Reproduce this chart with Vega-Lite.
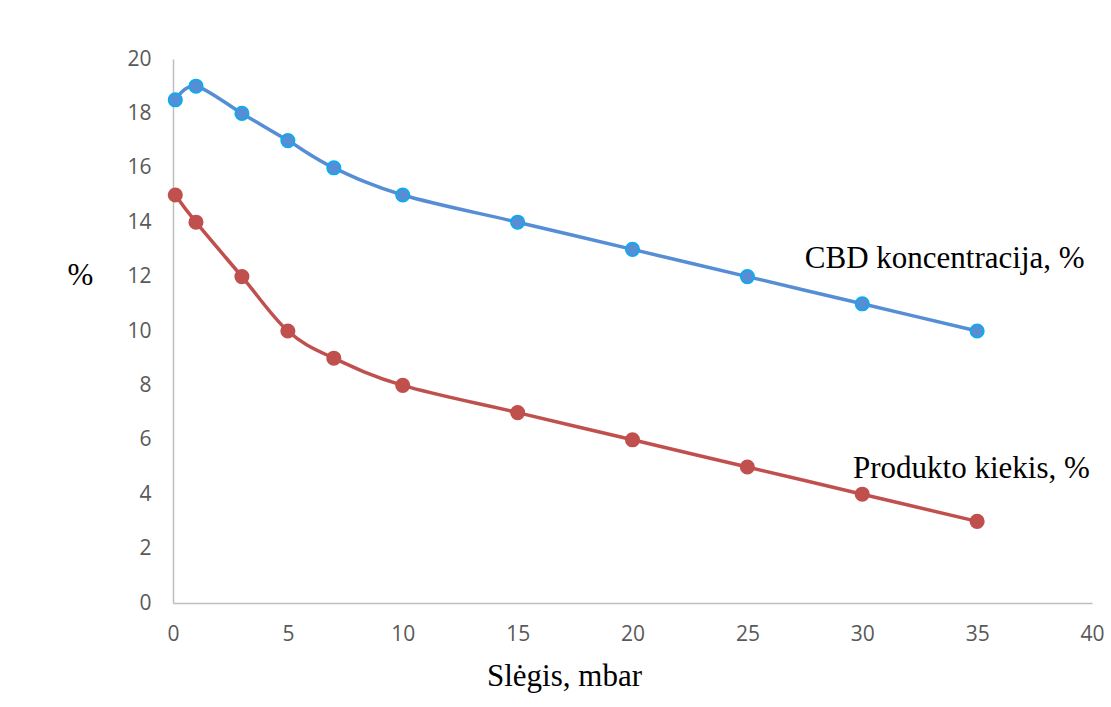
{
  "$schema": "https://vega.github.io/schema/vega-lite/v6.json",
  "width": 919,
  "height": 544,
  "autosize": {"type": "none"},
  "padding": {"left": 173, "top": 59, "right": 19, "bottom": 104},
  "background": "white",
  "config": {
    "view": {"stroke": null},
    "axis": {
      "grid": false,
      "ticks": false,
      "tickSize": 0,
      "domainColor": "#BFBFBF",
      "domainWidth": 1.5,
      "labelFont": "Open Sans",
      "labelFontSize": 21,
      "labelColor": "#595959",
      "labelFlush": false,
      "titleFont": "Liberation Serif",
      "titleFontSize": 31,
      "titleFontWeight": "normal",
      "titleColor": "black"
    }
  },
  "datasets": {
    "series": [
      {"series": "CBD", "pressure": 0.1, "value": 18.5},
      {"series": "CBD", "pressure": 1, "value": 19},
      {"series": "CBD", "pressure": 3, "value": 18},
      {"series": "CBD", "pressure": 5, "value": 17},
      {"series": "CBD", "pressure": 7, "value": 16},
      {"series": "CBD", "pressure": 10, "value": 15},
      {"series": "CBD", "pressure": 15, "value": 14},
      {"series": "CBD", "pressure": 20, "value": 13},
      {"series": "CBD", "pressure": 25, "value": 12},
      {"series": "CBD", "pressure": 30, "value": 11},
      {"series": "CBD", "pressure": 35, "value": 10},
      {"series": "Produktas", "pressure": 0.1, "value": 15},
      {"series": "Produktas", "pressure": 1, "value": 14},
      {"series": "Produktas", "pressure": 3, "value": 12},
      {"series": "Produktas", "pressure": 5, "value": 10},
      {"series": "Produktas", "pressure": 7, "value": 9},
      {"series": "Produktas", "pressure": 10, "value": 8},
      {"series": "Produktas", "pressure": 15, "value": 7},
      {"series": "Produktas", "pressure": 20, "value": 6},
      {"series": "Produktas", "pressure": 25, "value": 5},
      {"series": "Produktas", "pressure": 30, "value": 4},
      {"series": "Produktas", "pressure": 35, "value": 3}
    ],
    "labels": [
      {"label": "CBD koncentracija, %", "pressure": 27.5, "value": 12.32},
      {"label": "Produkto kiekis, %", "pressure": 29.6, "value": 4.6}
    ]
  },
  "layer": [
    {
      "data": {"name": "series"},
      "mark": {"type": "line", "interpolate": "cardinal", "strokeWidth": 3.5},
      "encoding": {
        "x": {
          "field": "pressure", "type": "quantitative",
          "scale": {"domain": [0, 40], "nice": false},
          "axis": {
            "values": [0, 5, 10, 15, 20, 25, 30, 35, 40],
            "labelPadding": 20,
            "title": "Slėgis, mbar",
            "titleX": 391,
            "titleY": 82,
            "titleBaseline": "alphabetic",
            "titleAlign": "center"
          }
        },
        "y": {
          "field": "value", "type": "quantitative",
          "scale": {"domain": [0, 20], "nice": false},
          "axis": {
            "values": [0, 2, 4, 6, 8, 10, 12, 14, 16, 18, 20],
            "labelPadding": 22,
            "title": "%",
            "titleAngle": 0,
            "titleX": -93,
            "titleY": 216,
            "titleBaseline": "middle",
            "titleAlign": "center"
          }
        },
        "color": {
          "field": "series", "type": "nominal",
          "scale": {"domain": ["CBD", "Produktas"], "range": ["#558ED5", "#C0504D"]},
          "legend": null
        }
      }
    },
    {
      "data": {"name": "series"},
      "mark": {"type": "circle", "size": 185, "strokeWidth": 1.5, "opacity": 1},
      "encoding": {
        "x": {"field": "pressure", "type": "quantitative"},
        "y": {"field": "value", "type": "quantitative"},
        "fill": {
          "field": "series", "type": "nominal",
          "scale": {"domain": ["CBD", "Produktas"], "range": ["#558ED5", "#C0504D"]},
          "legend": null
        },
        "stroke": {
          "field": "series", "type": "nominal",
          "scale": {"domain": ["CBD", "Produktas"], "range": ["#00B0F0", "#C0504D"]},
          "legend": null
        }
      }
    },
    {
      "data": {"name": "labels"},
      "mark": {"type": "text", "font": "Liberation Serif", "fontSize": 31, "align": "left", "baseline": "alphabetic", "color": "black"},
      "encoding": {
        "x": {"field": "pressure", "type": "quantitative"},
        "y": {"field": "value", "type": "quantitative"},
        "text": {"field": "label"}
      }
    }
  ]
}
